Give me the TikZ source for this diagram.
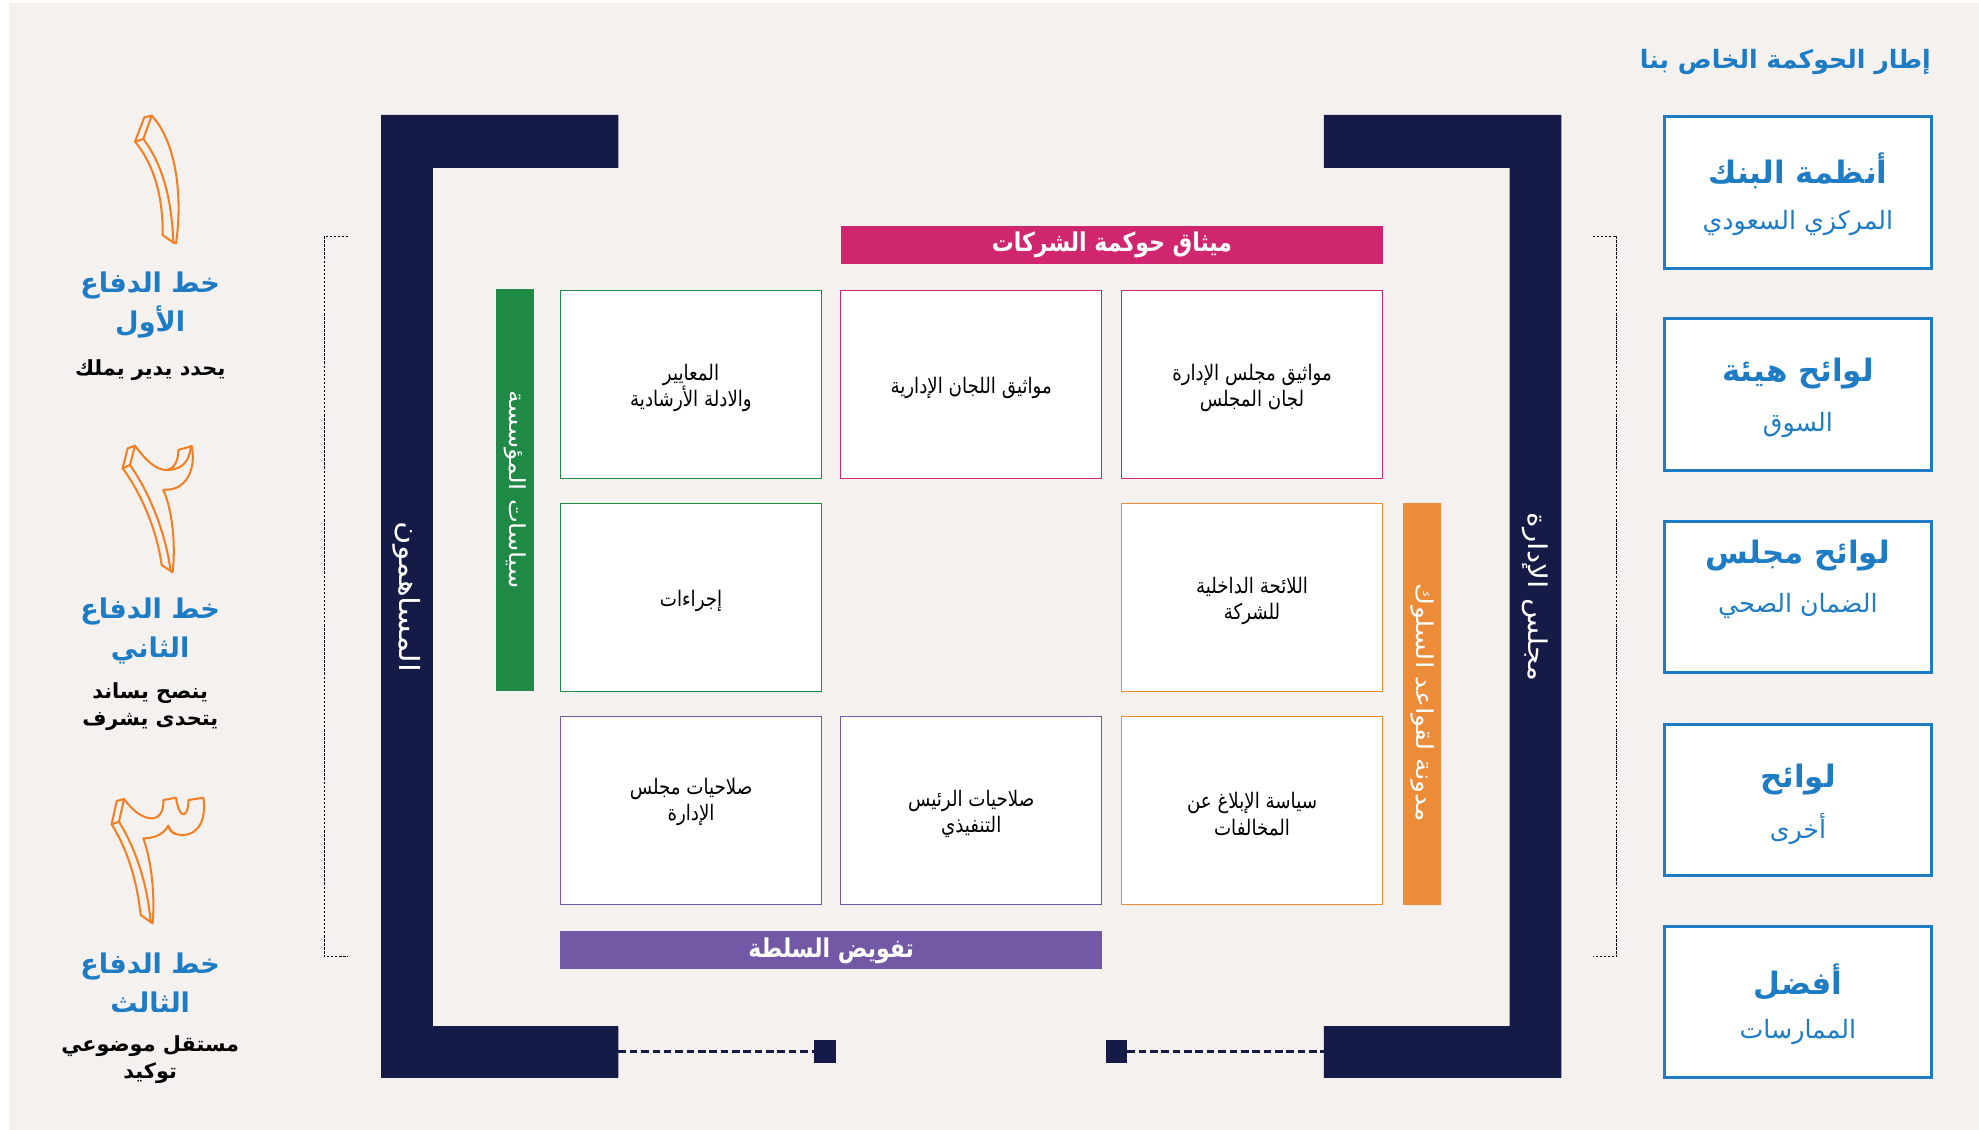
\documentclass[tikz,border=0pt]{standalone}
\usepackage{fontspec}
\TeXXeTstate=1
\newfontfamily\arf[Script=Arabic]{DejaVu Sans}
\newfontfamily\arcf[Script=Arabic,FakeStretch=0.85]{DejaVu Sans}
\newfontfamily\arwf[Script=Arabic,FakeStretch=1.15]{DejaVu Sans}
\newcommand\RT[1]{\beginR #1\endR}
\definecolor{navy}{HTML}{161A46}
\definecolor{bgc}{HTML}{F4F1EE}
\definecolor{mag}{HTML}{D0266F}
\definecolor{grn}{HTML}{1F8A45}
\definecolor{orn}{HTML}{EC8B38}
\definecolor{pur}{HTML}{7358A5}
\definecolor{blu}{HTML}{1E7CC5}
\definecolor{numo}{HTML}{F47E22}
\tikzset{
 cbox/.style={draw=#1, line width=0.9pt, fill=white, minimum width=207pt, minimum height=149pt, inner sep=0pt},
 ctext/.style={align=center, inner sep=0pt, font=\arcf\fontsize{17}{21}\selectfont},
 hbar/.style={fill=#1, minimum width=430pt, minimum height=30pt, inner sep=0pt, text=white, font=\arcf\bfseries\fontsize{20.5}{22}\selectfont},
 vbar/.style={fill=#1, minimum width=30pt, minimum height=318.5pt, inner sep=0pt},
 vtext/.style={rotate=-90, text=white, inner sep=0pt, font=\arwf\fontsize{#1}{#1}\selectfont},
 bluebox/.style={draw=blu, line width=2.4pt, fill=white, minimum width=211pt, minimum height=120pt, inner sep=0pt},
 bhead/.style={text=blu, font=\arf\bfseries\fontsize{24.5}{28}\selectfont, inner sep=0pt},
 bsub/.style={text=blu, font=\arf\fontsize{20}{22}\selectfont, inner sep=0pt},
 ldhead/.style={text=blu, font=\arf\bfseries\fontsize{21.5}{31}\selectfont, align=center, inner sep=0pt},
 ldsub/.style={text=black, font=\arf\bfseries\fontsize{16.5}{21.5}\selectfont, align=center, inner sep=0pt},
 numst/.style={draw=numo, line width=1.6pt, line join=round, line cap=round},
 brk/.style={draw=black, line width=0.8pt, dash pattern=on 2pt off 1.2pt},
 dashln/.style={draw=navy, line width=2pt, dash pattern=on 6pt off 3pt},
 sqst/.style={fill=navy, minimum width=17pt, minimum height=18pt, inner sep=0pt},
}
\begin{document}
\begin{tikzpicture}[x=1pt,y=-1pt]
\useasboundingbox (0,0) rectangle (1568,895);
\fill[white] (0,0) rectangle (1568,895);
\fill[bgc] (7,2) rectangle (1568,895);

% navy frame
\fill[navy] (302,91) -- (490,91) -- (490,133) -- (343,133) -- (343,813) -- (490,813) -- (490,854) -- (302,854) -- cycle;
\fill[navy] (1237,91) -- (1049,91) -- (1049,133) -- (1196,133) -- (1196,813) -- (1049,813) -- (1049,854) -- (1237,854) -- cycle;
\node[vtext=22] (sh) at (322,473) {\RT{المساهمون}};
\node[vtext=20.5] (bd) at (1216,473) {\RT{مجلس الإدارة}};

% bottom dashed links
\coordinate (lfb) at (490,833);
\coordinate (rfb) at (1049,833);
\node[sqst] (sqL) at (653.5,833) {};
\node[sqst] (sqR) at (884.5,833) {};
\draw[dashln] (lfb) -- (sqL.west);
\draw[dashln] (sqR.east) -- (rfb);

% bars
\node[hbar=mag] (charter) at (881,194) {\RT{ميثاق حوكمة الشركات}};
\node[hbar=pur, minimum width=429pt] (deleg) at (658.5,753) {\RT{تفويض السلطة}};
\node[vbar=grn] (gbar) at (408,388.3) {};
\node[vtext=17.5] (gtx) at (408,388) {\RT{سياسات المؤسسة}};
\node[vbar=orn] (obar) at (1127,557.8) {};
\node[vtext=18.5] (otx) at (1127,557) {\RT{مدونة لقواعد السلوك}};

% boxes
\node[cbox=grn] (b11) at (547.5,304.5) {};
\node[cbox=mag] (b12) at (769.5,304.5) {};
\node[cbox=mag] (b13) at (992,304.5) {};
\node[cbox=grn] (b21) at (547.5,473.3) {};
\node[cbox=orn] (b23) at (992,473.3) {};
\node[cbox=pur] (b31) at (547.5,642) {};
\node[cbox=pur] (b32) at (769.5,642) {};
\node[cbox=orn] (b33) at (992,642) {};
\node[ctext] (t11) at (547.5,307.5) {\RT{المعايير}\\\RT{والادلة الأرشادية}};
\node[ctext] (t12) at (769.5,307) {\RT{مواثيق اللجان الإدارية}};
\node[ctext] (t13) at (992,307.5) {\RT{مواثيق مجلس الإدارة}\\\RT{لجان المجلس}};
\node[ctext] (t21) at (547.5,476) {\RT{إجراءات}};
\node[ctext] (t23) at (992,476) {\RT{اللائحة الداخلية}\\\RT{للشركة}};
\node[ctext] (t31) at (547.5,635.5) {\RT{صلاحيات مجلس}\\\RT{الإدارة}};
\node[ctext] (t32) at (769.5,645) {\RT{صلاحيات الرئيس}\\\RT{التنفيذي}};
\node[ctext] (t33) at (992,645) {\RT{سياسة الإبلاغ عن}\\\RT{المخالفات}};

% dotted brackets
\draw[brk] (276,187) -- (257,187) -- (257,758) -- (276,758);
\draw[brk] (1262,187) -- (1281,187) -- (1281,758) -- (1262,758);

% right column
\node[anchor=east, text=blu, inner sep=0pt, font=\arf\bfseries\fontsize{20}{24}\selectfont] (title) at (1530,49) {\RT{إطار الحوكمة الخاص بنا}};
\node[bluebox] (r1) at (1424.5,152.5) {};
\node[bluebox] (r2) at (1424.5,312.7) {};
\node[bluebox] (r3) at (1424.5,473) {};
\node[bluebox] (r4) at (1424.5,634) {};
\node[bluebox] (r5) at (1424.5,794) {};
\node[bhead] (r1h) at (1424.5,135) {\RT{أنظمة البنك}};
\node[bsub]  (r1s) at (1424.5,177) {\RT{المركزي السعودي}};
\node[bhead] (r2h) at (1424.5,296) {\RT{لوائح هيئة}};
\node[bsub]  (r2s) at (1424.5,337) {\RT{السوق}};
\node[bhead] (r3h) at (1424.5,440) {\RT{لوائح مجلس}};
\node[bsub]  (r3s) at (1424.5,480) {\RT{الضمان الصحي}};
\node[bhead] (r4h) at (1424.5,618) {\RT{لوائح}};
\node[bsub]  (r4s) at (1424.5,657) {\RT{أخرى}};
\node[bhead] (r5h) at (1424.5,778) {\RT{أفضل}};
\node[bsub]  (r5s) at (1424.5,818) {\RT{الممارسات}};

% left column texts
\node[ldhead] (l1h) at (119,241.5) {\RT{خط الدفاع}\\\RT{الأول}};
\node[ldsub]  (l1s) at (119,293) {\RT{يحدد يدير يملك}};
\node[ldhead] (l2h) at (119,500) {\RT{خط الدفاع}\\\RT{الثاني}};
\node[ldsub]  (l2s) at (119,560) {\RT{ينصح يساند}\\\RT{يتحدى يشرف}};
\node[ldhead] (l3h) at (119,778.5) {\RT{خط الدفاع}\\\RT{الثالث}};
\node[ldsub]  (l3s) at (119,839.5) {\RT{مستقل موضوعي}\\\RT{توكيد}};

% numeral 1
\begin{scope}[shift={(79.23,79.23)}, scale=0.2641]
 \draw[numst] (133,52) -- (155,47) .. controls (225,120) and (250,280) .. (228,430) -- (220,428) -- (188,405) .. controls (190,290) and (160,190) .. (105,125) -- cycle;
 \draw[numst] (105,125) -- (130,117) -- (155,47);
 \draw[numst] (130,117) .. controls (185,190) and (215,290) .. (220,428);
\end{scope}
% numeral 2
\begin{scope}[shift={(79.23,344.66)}, scale=0.2641]
 \draw[numst] (83,40) -- (105,32) .. controls (140,80) and (170,105) .. (200,105) .. controls (225,100) and (235,75) .. (235,45) -- (275,33) .. controls (285,80) and (275,140) .. (225,160) .. controls (210,165) and (195,163) .. (190,165) .. controls (215,220) and (228,320) .. (218,412) -- (185,390) .. controls (170,280) and (120,170) .. (68,100) -- cycle;
 \draw[numst] (68,100) -- (90,90) -- (105,32);
 \draw[numst] (90,90) .. controls (140,160) and (195,280) .. (212,408);
 \draw[numst] (272,36) .. controls (268,85) and (240,105) .. (200,105);
\end{scope}
% numeral 3
\begin{scope}[shift={(79.23,621.98)}, scale=0.2641]
 \draw[numst] (50,48) -- (72,42) .. controls (100,80) and (130,100) .. (155,100) .. controls (180,100) and (192,75) .. (190,45) -- (228,38) .. controls (232,65) and (240,88) .. (250,88) .. controls (262,85) and (266,65) .. (265,45) -- (310,38) .. controls (318,90) and (305,150) .. (245,150) .. controls (225,150) and (210,140) .. (205,122) .. controls (190,150) and (160,160) .. (130,160) .. controls (155,230) and (165,330) .. (158,415) -- (122,390) .. controls (110,280) and (80,190) .. (35,118) -- cycle;
 \draw[numst] (35,118) -- (57,110) -- (72,42);
 \draw[numst] (57,110) .. controls (100,180) and (140,280) .. (152,410);
 \draw[numst] (205,122) .. controls (208,135) and (215,143) .. (228,148);
\end{scope}
\end{tikzpicture}
\end{document}
